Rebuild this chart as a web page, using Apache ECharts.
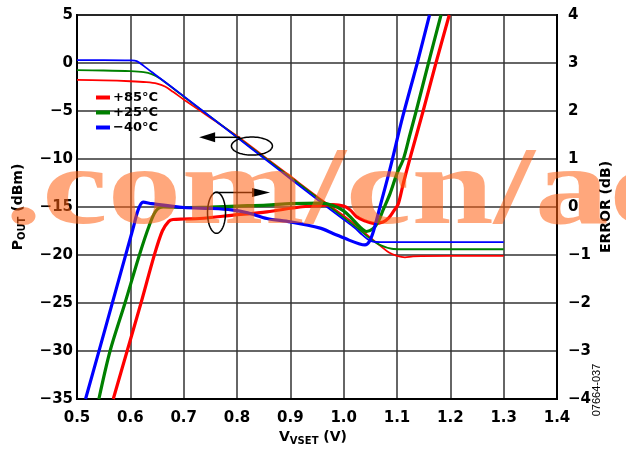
<!DOCTYPE html>
<html><head><meta charset="utf-8">
<script src="https://cdn.jsdelivr.net/npm/echarts@6/dist/echarts.min.js"></script>
<style>html,body{margin:0;padding:0;background:#fff}#c{width:626px;height:451px}</style>
</head><body><div id="c"></div>
<script>
// ---------- data ----------
const tempLabels = ['+85°C', '+25°C', '\u221240°C'];
const tempColors = ['#ff0000', '#008000', '#0000ff'];

const xTicks = [0.5, 0.6, 0.7, 0.8, 0.9, 1.0, 1.1, 1.2, 1.3, 1.4];
const poutTicks = [-35, -30, -25, -20, -15, -10, -5, 0, 5];
const errorTicks = [-4, -3, -2, -1, 0, 1, 2, 3, 4];

// POUT (dBm) vs VVSET (V)
const poutHotV  = [0.5, 0.55, 0.6, 0.63, 0.65, 0.665, 0.68, 0.7, 0.75, 0.8, 0.85, 0.9, 0.95, 1.0, 1.03, 1.05, 1.07, 1.085, 1.1, 1.115, 1.13, 1.2, 1.3];
const poutHot   = [-1.75, -1.8, -1.9, -2.0, -2.15, -2.45, -3.0, -3.8, -5.7, -7.6, -9.7, -11.8, -13.9, -15.9, -17.2, -18.2, -19.1, -19.75, -20.1, -20.25, -20.15, -20.1, -20.1];
const poutRoomV = [0.5, 0.55, 0.6, 0.625, 0.64, 0.655, 0.7, 0.75, 0.8, 0.85, 0.9, 0.95, 1.0, 1.03, 1.05, 1.07, 1.09, 1.11, 1.2, 1.3];
const poutRoom  = [-0.75, -0.78, -0.85, -0.95, -1.15, -1.6, -3.5, -5.6, -7.7, -9.8, -11.9, -14.0, -16.1, -17.4, -18.3, -19.0, -19.35, -19.4, -19.4, -19.4];
const poutColdV = [0.5, 0.55, 0.6, 0.612, 0.625, 0.65, 0.7, 0.75, 0.8, 0.85, 0.9, 0.95, 1.0, 1.02, 1.035, 1.045, 1.055, 1.07, 1.2, 1.3];
const poutCold  = [0.3, 0.3, 0.27, 0.2, -0.3, -1.35, -3.45, -5.6, -7.75, -9.9, -12.05, -14.2, -16.3, -17.15, -17.9, -18.35, -18.6, -18.65, -18.65, -18.65];

// ERROR (dB) vs VVSET (V)
const errHotV  = [0.568, 0.594, 0.62, 0.645, 0.66, 0.672, 0.68, 0.7, 0.73, 0.793, 0.856, 0.918, 0.956, 0.98, 1.0, 1.012, 1.024, 1.04, 1.056, 1.074, 1.085, 1.094, 1.102, 1.112, 1.124, 1.149, 1.173, 1.198];
const errHot   = [-4, -3, -2, -1, -0.5, -0.3, -0.26, -0.25, -0.24, -0.17, -0.1, 0.0, 0.03, 0.05, 0.02, -0.06, -0.2, -0.29, -0.34, -0.31, -0.22, -0.08, 0.05, 0.5, 1.0, 2.0, 3.0, 4.0];
const errRoomV = [0.541, 0.562, 0.59, 0.617, 0.635, 0.648, 0.662, 0.7, 0.75, 0.8, 0.856, 0.9, 0.956, 0.98, 1.0, 1.012, 1.03, 1.043, 1.055, 1.065, 1.074, 1.087, 1.1, 1.112, 1.124, 1.136, 1.159, 1.1825];
const errRoom  = [-4, -3, -2, -1, -0.4, -0.08, 0.0, -0.01, 0.0, 0.02, 0.04, 0.07, 0.08, 0.03, -0.08, -0.2, -0.41, -0.51, -0.45, -0.3, -0.06, 0.28, 0.7, 1.0, 1.5, 2.0, 3.0, 4.0];
const errColdV = [0.516, 0.54, 0.565, 0.59, 0.605, 0.615, 0.624, 0.64, 0.7, 0.75, 0.79, 0.82, 0.856, 0.9, 0.956, 0.98, 1.01, 1.03, 1.04, 1.048, 1.056, 1.068, 1.087, 1.11, 1.138, 1.161];
const errCold  = [-4, -3.05, -2.05, -1.05, -0.45, -0.05, 0.1, 0.07, -0.01, -0.03, -0.06, -0.12, -0.24, -0.31, -0.44, -0.55, -0.69, -0.77, -0.79, -0.72, -0.5, 0.0, 0.8, 1.85, 3.0, 4.0];

const watermarkText = '.com/cn/ad';
const figureCode = '07664-037';

// ---------- chart ----------
const pair = (xs, ys) => xs.map((x, i) => [x, ys[i]]);
const minus = v => (v < 0 ? '\u2212' + Math.abs(v) : String(v));
const FONT = '"DejaVu Sans", Arial, sans-serif';

const poutSets = [pair(poutHotV, poutHot), pair(poutRoomV, poutRoom), pair(poutColdV, poutCold)];
const errSets = [pair(errHotV, errHot), pair(errRoomV, errRoom), pair(errColdV, errCold)];

const series = [];
tempLabels.forEach((name, i) => {
  series.push({
    name, type: 'line', yAxisIndex: 0, data: poutSets[i], showSymbol: false,
    smooth: 0.3, z: 3,
    lineStyle: { color: tempColors[i], width: 1.8 }, itemStyle: { color: tempColors[i] }
  });
});
tempLabels.forEach((name, i) => {
  series.push({
    name, type: 'line', yAxisIndex: 1, data: errSets[i], showSymbol: false,
    smooth: 0.3, z: 4,
    lineStyle: { color: tempColors[i], width: 3.2 }, itemStyle: { color: tempColors[i] }
  });
});

const chart = echarts.init(document.getElementById('c'), null, { renderer: 'canvas' });
const labelStyle = { color: '#000', fontWeight: 'bold', fontSize: 15, fontFamily: FONT };

chart.setOption({
  animation: false,
  backgroundColor: '#fff',
  grid: { left: 77, right: 69, top: 15, bottom: 52, show: true, borderColor: '#000', borderWidth: 2, backgroundColor: 'transparent' },
  legend: {
    data: tempLabels, orient: 'vertical', left: 96, top: 91, icon: 'rect',
    itemWidth: 14, itemHeight: 4, itemGap: 2, padding: 0,
    textStyle: { color: '#000', fontWeight: 'bold', fontSize: 13, fontFamily: FONT, padding: [0, 0, 0, -2] }
  },
  xAxis: {
    type: 'value', min: xTicks[0], max: xTicks[xTicks.length - 1], interval: 0.1,
    axisLine: { show: true, onZero: false, lineStyle: { color: '#000', width: 2 } },
    axisTick: { show: false },
    axisLabel: Object.assign({ margin: 12, formatter: v => v.toFixed(1) }, labelStyle),
    splitLine: { show: true, lineStyle: { color: '#333', width: 1.5 } }
  },
  yAxis: [
    {
      type: 'value', min: poutTicks[0], max: poutTicks[poutTicks.length - 1], interval: 5,
      axisLine: { show: true, onZero: false, lineStyle: { color: '#000', width: 2 } },
      axisTick: { show: false },
      axisLabel: Object.assign({ margin: 4, formatter: minus }, labelStyle),
      splitLine: { show: true, lineStyle: { color: '#333', width: 1.5 } }
    },
    {
      type: 'value', position: 'right', min: errorTicks[0], max: errorTicks[errorTicks.length - 1], interval: 1,
      axisLine: { show: true, onZero: false, lineStyle: { color: '#000', width: 2 } },
      axisTick: { show: false },
      axisLabel: Object.assign({ margin: 11, formatter: minus }, labelStyle),
      splitLine: { show: false }
    }
  ],
  series
});

// ---------- annotations (positions from data coordinates) ----------
function px(v, p) { return chart.convertToPixel({ xAxisIndex: 0, yAxisIndex: 0 }, [v, p]); }
function ellipsePts(cx, cy, rx, ry) {
  const pts = [];
  for (let k = 0; k < 72; k++) { const a = k / 72 * Math.PI * 2; pts.push([cx + rx * Math.cos(a), cy + ry * Math.sin(a)]); }
  return pts;
}
const e1 = px(0.828, -8.65), e2 = px(0.7616, -15.6);
const a1s = px(0.806, -7.74), a1t = px(0.729, -7.74);
const a2s = px(0.76, -13.5), a2t = px(0.862, -13.5);

const graphics = [
  { type: 'polygon', z: 50, shape: { points: ellipsePts(e1[0], e1[1], 20.5, 9) }, style: { fill: 'none', stroke: '#000', lineWidth: 1.5 } },
  { type: 'polygon', z: 50, shape: { points: ellipsePts(e2[0], e2[1], 9, 20.5) }, style: { fill: 'none', stroke: '#000', lineWidth: 1.5 } },
  { type: 'line', z: 50, shape: { x1: a1s[0], y1: a1s[1], x2: a1t[0] + 10, y2: a1t[1] }, style: { stroke: '#000', lineWidth: 1.5 } },
  { type: 'polygon', z: 50, shape: { points: [[a1t[0], a1t[1]], [a1t[0] + 16, a1t[1] - 5], [a1t[0] + 16, a1t[1] + 5]] }, style: { fill: '#000' } },
  { type: 'line', z: 50, shape: { x1: a2s[0], y1: a2s[1], x2: a2t[0] - 10, y2: a2t[1] }, style: { stroke: '#000', lineWidth: 1.5 } },
  { type: 'polygon', z: 50, shape: { points: [[a2t[0], a2t[1]], [a2t[0] - 18, a2t[1] - 4.5], [a2t[0] - 18, a2t[1] + 4.5]] }, style: { fill: '#000' } },
  // axis titles
  { type: 'text', z: 60, x: 18, y: 207, rotation: Math.PI / 2,
    style: { text: '{b|P}{s|OUT}{b| (dBm)}', align: 'center', verticalAlign: 'middle', textAlign: 'center', textVerticalAlign: 'middle',
      rich: { b: { font: 'bold 14px ' + FONT, fill: '#000', lineHeight: 18, verticalAlign: 'middle' },
              s: { font: 'bold 10px ' + FONT, fill: '#000', lineHeight: 18, verticalAlign: 'bottom' } } } },
  { type: 'text', z: 60, x: 606, y: 207, rotation: Math.PI / 2,
    style: { text: 'ERROR (dB)', font: 'bold 14px ' + FONT, fill: '#000', align: 'center', verticalAlign: 'middle', textAlign: 'center', textVerticalAlign: 'middle' } },
  { type: 'text', z: 60, x: 313, y: 437,
    style: { text: '{b|V}{s|VSET}{b| (V)}', align: 'center', verticalAlign: 'middle', textAlign: 'center', textVerticalAlign: 'middle',
      rich: { b: { font: 'bold 14px ' + FONT, fill: '#000', lineHeight: 18, verticalAlign: 'middle' },
              s: { font: 'bold 10px ' + FONT, fill: '#000', lineHeight: 18, verticalAlign: 'bottom' } } } },
  { type: 'text', z: 60, x: 597, y: 390, rotation: Math.PI / 2,
    style: { text: figureCode, font: '11px "Liberation Sans", Arial, sans-serif', fill: '#000', align: 'center', verticalAlign: 'middle', textAlign: 'center', textVerticalAlign: 'middle' } },
  // watermark
  { type: 'text', z: 100, x: 5, y: 194, scaleX: 0.87, scaleY: 0.65,
    style: { text: watermarkText, font: 'bold 170px "Liberation Serif", serif', fill: 'rgba(255,95,17,0.55)', align: 'left', verticalAlign: 'middle', textAlign: 'left', textVerticalAlign: 'middle' } }
];
chart.setOption({ graphic: graphics });
</script></body></html>
